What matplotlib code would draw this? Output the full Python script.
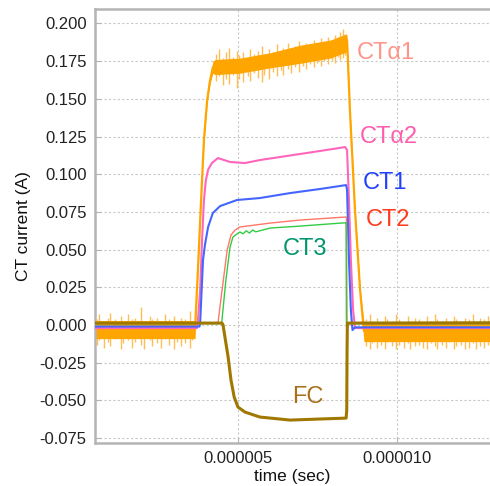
import matplotlib
matplotlib.use("Agg")
import matplotlib.pyplot as plt
from matplotlib.ticker import FuncFormatter, MultipleLocator
import numpy as np

plt.rcParams['font.family'] = ['Liberation Sans', 'DejaVu Sans']

US = 1e-6

# ---- data (time in microseconds, current in A) ----
ca1_t = [0.49, 3.64, 3.73, 3.83, 3.92, 4.02, 4.11, 4.20, 4.27, 5.05, 6.00, 6.94, 7.90, 8.39,
         8.42, 8.51, 8.67, 8.83, 8.95, 12.95]
ca1_v = [-0.002, -0.002, 0.0365, 0.083, 0.123, 0.149, 0.162, 0.171, 0.171, 0.172, 0.1755, 0.1795, 0.183, 0.187,
         0.189, 0.1425, 0.076, 0.023, -0.004, -0.004]
ca1_hi = [0.005, 0.005, 0.002, 0.002, 0.002, 0.002, 0.002, 0.004, 0.005, 0.005, 0.005, 0.006, 0.006, 0.006,
          0.003, 0.002, 0.002, 0.002, 0.006, 0.006]
ca1_lo = [0.007, 0.007, 0.002, 0.002, 0.002, 0.002, 0.002, 0.004, 0.005, 0.005, 0.005, 0.006, 0.006, 0.006,
          0.003, 0.002, 0.002, 0.002, 0.007, 0.007]

spike_t = [0.55, 0.62, 0.78, 0.91, 0.97, 1.12, 1.30, 1.38, 1.52, 1.66, 1.74, 1.93, 2.05, 2.21, 2.29, 2.44,
           2.58, 2.71, 2.83, 2.97, 3.08, 3.21, 3.33, 3.47, 3.55,
           4.31, 4.38, 4.52, 4.60, 4.71, 4.83, 4.95, 5.02, 5.16, 5.30, 5.37, 5.49, 5.62, 5.74, 5.81, 5.97,
           6.08, 6.21, 6.33, 6.42, 6.57, 6.66, 6.79, 6.90, 7.03, 7.12, 7.26, 7.37, 7.48, 7.61, 7.69, 7.83,
           7.95, 8.04, 8.12, 8.21, 8.29, 8.35,
           9.02, 9.14, 9.22, 9.37, 9.48, 9.61, 9.69, 9.84, 9.97, 10.06, 10.21, 10.33, 10.41, 10.56, 10.68,
           10.80, 10.93, 11.05, 11.17, 11.26, 11.40, 11.53, 11.61, 11.77, 11.86, 12.01, 12.12, 12.25, 12.37,
           12.46, 12.61, 12.72, 12.85]
spike_top = [0.004, 0.007, 0.003, 0.005, 0.008, 0.004, 0.006, 0.003, 0.007, 0.004, 0.005, 0.012, 0.003, 0.006,
             0.004, 0.005, 0.003, 0.007, 0.004, 0.006, 0.003, 0.005, 0.004, 0.009, 0.003,
             0.180, 0.183, 0.177, 0.181, 0.184, 0.178, 0.182, 0.179, 0.181, 0.177, 0.183, 0.180, 0.182, 0.185,
             0.179, 0.183, 0.181, 0.186, 0.182, 0.184, 0.187, 0.183, 0.185, 0.188, 0.184, 0.187, 0.185, 0.189,
             0.186, 0.190, 0.187, 0.191, 0.188, 0.192, 0.189, 0.194, 0.196, 0.193,
             0.004, 0.007, 0.003, 0.005, 0.002, 0.006, 0.004, 0.003, 0.007, 0.004, 0.002, 0.006, 0.003, 0.005,
             0.004, 0.002, 0.006, 0.003, 0.007, 0.004, 0.003, 0.005, 0.002, 0.006, 0.004, 0.003, 0.005, 0.004,
             0.007, 0.003, 0.005, 0.004, 0.006]
spike_bot = [-0.013, -0.010, -0.015, -0.011, -0.014, -0.009, -0.016, -0.012, -0.010, -0.015, -0.011, -0.013,
             -0.016, -0.010, -0.014, -0.012, -0.015, -0.009, -0.013, -0.016, -0.011, -0.014, -0.012, -0.015, -0.010,
             0.162, 0.165, 0.159, 0.163, 0.160, 0.166, 0.157, 0.163, 0.161, 0.165, 0.162, 0.167, 0.164, 0.161,
             0.166, 0.163, 0.168, 0.165, 0.169, 0.166, 0.170, 0.167, 0.171, 0.168, 0.172, 0.170, 0.173, 0.171,
             0.174, 0.172, 0.175, 0.173, 0.176, 0.174, 0.178, 0.176, 0.177, 0.179,
             -0.014, -0.016, -0.012, -0.015, -0.013, -0.016, -0.011, -0.014, -0.016, -0.013, -0.015, -0.012,
             -0.016, -0.014, -0.013, -0.015, -0.016, -0.012, -0.014, -0.016, -0.013, -0.015, -0.011, -0.016,
             -0.014, -0.013, -0.016, -0.015, -0.012, -0.016, -0.014, -0.015, -0.013]

ca2_t = [0.49, 3.70, 3.73, 3.80, 3.86, 3.92, 3.98, 4.05, 4.17, 4.36, 4.74, 5.21, 5.68, 6.31, 6.94, 7.57, 8.36,
         8.42, 8.48, 8.54, 8.61, 8.67, 12.95]
ca2_v = [-0.002, -0.002, 0.003, 0.023, 0.056, 0.083, 0.096, 0.103, 0.1074, 0.1107, 0.1081, 0.1074, 0.1094, 0.1114,
         0.1134, 0.1154, 0.118, 0.116, 0.083, 0.043, 0.010, -0.002, -0.002]

ct1_t = [0.49, 3.78, 3.80, 3.89, 3.95, 4.05, 4.20, 4.43, 4.96, 5.68, 6.63, 7.57, 8.39,
         8.42, 8.48, 8.54, 8.59, 8.67, 12.95]
ct1_v = [-0.001, -0.001, 0.0013, 0.043, 0.053, 0.065, 0.0743, 0.0789, 0.0829, 0.0842, 0.0875, 0.0902, 0.0928,
         0.0895, 0.043, 0.010, -0.0033, -0.0015, -0.0015]

ct2_t = [0.49, 4.36, 4.49, 4.65, 4.77, 4.90, 5.05, 6.00, 6.94, 8.36, 8.40, 8.42, 12.95]
ct2_v = [0.001, 0.0013, 0.0232, 0.0497, 0.0597, 0.063, 0.065, 0.0676, 0.0696, 0.0716, 0.0716, 0.001, 0.001]

ct3_t = [0.49, 4.43, 4.48, 4.61, 4.74, 4.83, 4.93, 5.05, 5.15, 5.25, 5.35, 5.45, 5.55, 6.00, 6.94, 8.36, 8.39, 8.40, 12.95]
ct3_v = [0.001, 0.001, 0.002, 0.0298, 0.0517, 0.0583, 0.060, 0.0617, 0.0605, 0.0625, 0.061, 0.063, 0.0618, 0.0643,
         0.0656, 0.0678, 0.0678, 0.001, 0.001]

fc_t = [0.49, 4.49, 4.52, 4.58, 4.68, 4.77, 4.87, 4.99, 5.21, 5.68, 6.63, 7.57, 8.39, 8.41, 8.42, 8.43, 12.95]
fc_v = [0.0013, 0.0013, 0.0, -0.008, -0.0212, -0.0365, -0.0477, -0.0544, -0.0577, -0.061, -0.063, -0.0623,
        -0.0617, -0.0564, -0.0166, 0.0013, 0.0015]

labels = ["CTα1", "CTα2", "CT1", "CT2", "CT3", "FC"]
label_t = [8.73, 8.83, 8.92, 9.02, 6.41, 6.69]
label_v = [0.1803, 0.1246, 0.0941, 0.0696, 0.0504, -0.0477]
label_colors = ["#FF958A", "#FF5CAE", "#1F40FF", "#FF3B1E", "#00956B", "#A8701A"]

x_ticks = [5.0, 10.0]

# ---- figure ----
fig = plt.figure(figsize=(4.9, 4.86), dpi=100)
ax = fig.add_axes([95/490, 43/486, 1 - 95/490, 433.5/486])

def s(arr):
    return np.asarray(arr) * US

ca1_t_a = s(ca1_t)
ca1_v_a = np.asarray(ca1_v)
ax.vlines(s(spike_t), spike_bot, spike_top, color="#FFBE55", lw=1.0, zorder=1.9)
ax.fill_between(ca1_t_a, ca1_v_a - np.asarray(ca1_lo), ca1_v_a + np.asarray(ca1_hi),
                color="#FFA500", lw=0, zorder=2)
ax.plot(ca1_t_a, ca1_v_a, color="#FFA500", lw=1.6, zorder=2)

ax.plot(s(ca2_t), ca2_v, color="#FF66BB", lw=1.5, zorder=3)
ax.plot(s(ct1_t), ct1_v, color="#4466FF", lw=1.5, zorder=3.1)
ax.plot(s(ct2_t), ct2_v, color="#FF7766", lw=1.0, zorder=3.2)
ax.plot(s(ct3_t), ct3_v, color="#33CC44", lw=1.0, zorder=3.3)
ax.plot(s(fc_t), fc_v, color="#A07800", lw=2.2, zorder=4)

for lab, tt, vv, cc in zip(labels, label_t, label_v, label_colors):
    ax.text(tt * US, vv, lab, color=cc, fontsize=17, ha="left", va="center", zorder=5)

ax.set_xticks(s(x_ticks))
ax.xaxis.set_major_formatter(FuncFormatter(lambda x, p: f"{x:.6f}"))
ax.yaxis.set_major_locator(MultipleLocator(0.025))
ax.yaxis.set_major_formatter(FuncFormatter(lambda y, p: f"{y:.3f}".replace("\u2212", "-")))
ax.set_xlim(0.4936 * US, 12.915 * US)
ax.set_ylim(-0.0782, 0.2092)

ax.grid(True, color="#c8c8c8", linestyle=(0, (2, 2)), linewidth=0.8)
ax.set_axisbelow(True)

for side in ["left", "bottom", "top"]:
    ax.spines[side].set_color("#b4b4b4")
    ax.spines[side].set_linewidth(1.8)
ax.spines["right"].set_visible(False)

ax.tick_params(direction="in", length=4, width=0.8, color="#b4b4b4",
               labelsize=12, labelcolor="#222222", pad=6)

ax.set_xlabel("time (sec)", fontsize=12.5, color="#111111", labelpad=2)
ax.set_ylabel("CT current (A)", fontsize=12.5, color="#111111", labelpad=6)

fig.savefig("out.png", dpi=100)
